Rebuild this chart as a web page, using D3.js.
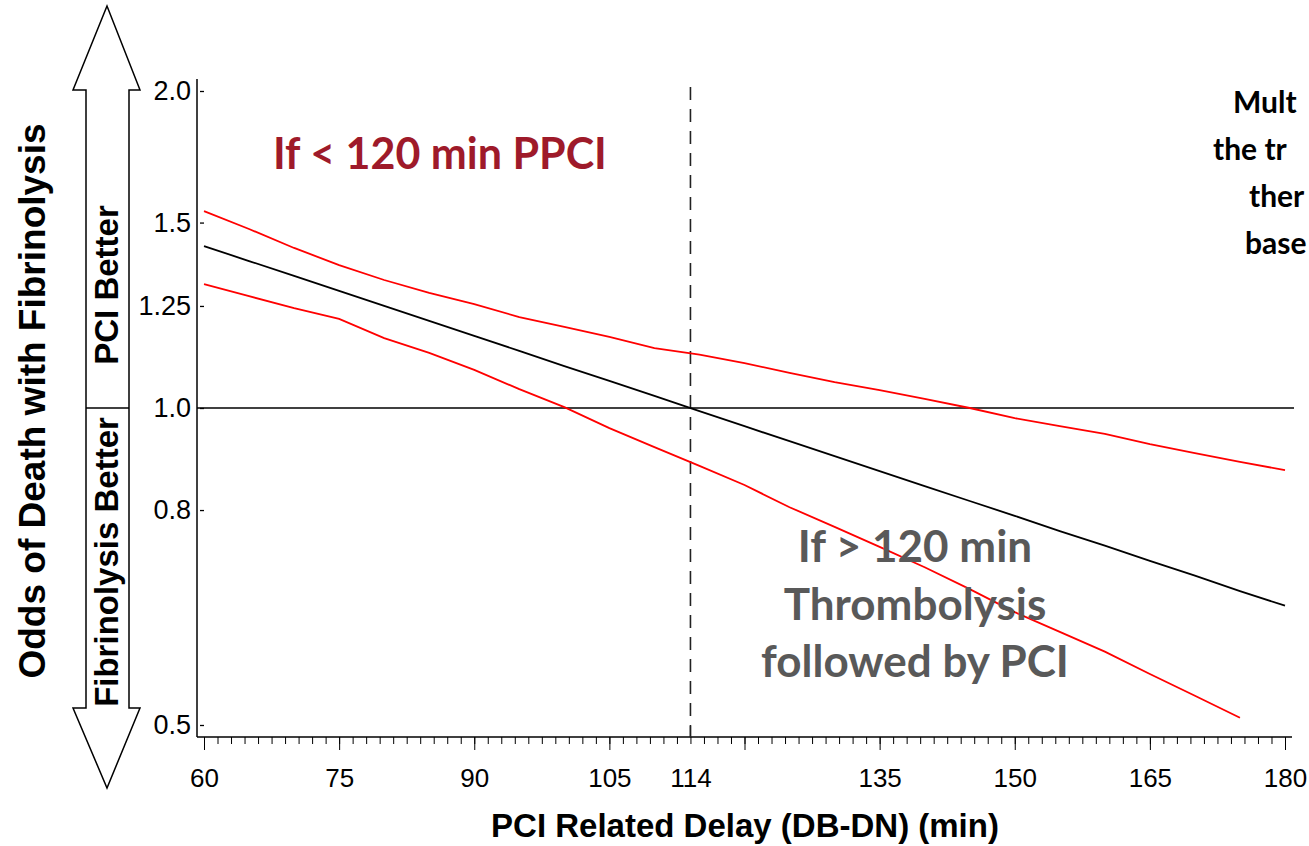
<!DOCTYPE html>
<html>
<head>
<meta charset="utf-8">
<script src="https://cdn.jsdelivr.net/npm/d3@7"></script>
<style>
  body { margin: 0; background: #fff; }
  svg { display: block; }
  .tick text { font-family: "Liberation Sans", Arial, sans-serif; }
</style>
</head>
<body>
<div id="chart"></div>
<script>
// data (delay in min, odds ratio)
let delay = [60, 65, 70, 75, 80, 85, 90, 95, 100, 105, 110, 115, 120, 125, 130, 135, 140, 145, 150, 155, 160, 165, 170, 175, 180];
let oddsMid = [1.425, 1.379, 1.335, 1.292, 1.250, 1.210, 1.171, 1.133, 1.096, 1.061, 1.027, 0.993, 0.961, 0.930, 0.900, 0.871, 0.843, 0.816, 0.790, 0.764, 0.740, 0.716, 0.693, 0.670, 0.649];
let oddsUpper = [1.538, 1.479, 1.419, 1.367, 1.323, 1.286, 1.255, 1.220, 1.194, 1.168, 1.140, 1.124, 1.103, 1.080, 1.058, 1.040, 1.020, 1.000, 0.978, 0.961, 0.945, 0.924, 0.906, 0.889, 0.873];
let oddsLower = [1.311, 1.277, 1.244, 1.215, 1.165, 1.128, 1.087, 1.042, 1.002, 0.957, 0.918, 0.881, 0.845, 0.805, 0.771, 0.738, 0.706, 0.673, 0.640, 0.613, 0.587, 0.559, 0.533, 0.508, null];

let xMajorTicks = [60, 75, 90, 105, 120, 135, 150, 165, 180];
let xLabelTicks = [60, 75, 90, 105, 114, 135, 150, 165, 180];
let yTicks = [0.5, 0.8, 1.0, 1.25, 1.5, 2.0];
let yTickLabels = ["0.5", "0.8", "1.0", "1.25", "1.5", "2.0"];
let cutoff = 114;

let W = 1309, H = 846;

var svg = d3.select("#chart")
    .append("svg")
    .attr("width", W)
    .attr("height", H);

// scales
var x = d3.scaleLinear()
    .domain([60, 180])
    .range([204, 1285]);

var y = d3.scaleLog()
    .domain([0.5, 2.0])
    .range([725, 91]);

var axisX0 = 197, axisY0 = 737;

// x axis: minor ticks every 1.5 min
svg.append("g")
    .attr("transform", "translate(0," + axisY0 + ")")
    .call(d3.axisBottom(x).tickValues(d3.range(60, 180.01, 1.5)).tickSize(7).tickFormat(""))
    .call(g => g.select(".domain").remove());

// x axis: major ticks
svg.append("g")
    .attr("transform", "translate(0," + axisY0 + ")")
    .call(d3.axisBottom(x).tickValues(xMajorTicks).tickSize(13).tickFormat(""))
    .call(g => g.select(".domain").remove());

// x axis labels
svg.append("g")
    .attr("transform", "translate(0," + axisY0 + ")")
    .call(d3.axisBottom(x).tickValues(xLabelTicks).tickSize(0).tickPadding(32).tickFormat(d3.format("d")))
    .call(g => g.select(".domain").remove())
    .selectAll("text")
    .style("font-size", "26px")
    .attr("fill", "#000");

// upward tick at cutoff
svg.append("line")
    .attr("x1", x(cutoff)).attr("x2", x(cutoff))
    .attr("y1", axisY0).attr("y2", axisY0 - 11)
    .attr("stroke", "#000").attr("stroke-width", 1.3);

// axis lines
svg.append("line")
    .attr("x1", axisX0).attr("x2", 1292)
    .attr("y1", axisY0).attr("y2", axisY0)
    .attr("stroke", "#000").attr("stroke-width", 1.5);
svg.append("line")
    .attr("x1", axisX0).attr("x2", axisX0)
    .attr("y1", 79).attr("y2", axisY0)
    .attr("stroke", "#000").attr("stroke-width", 1.5);

// y axis
svg.append("g")
    .attr("transform", "translate(" + axisX0 + ",0)")
    .call(d3.axisLeft(y).tickValues(yTicks).tickSize(0).tickPadding(6)
        .tickFormat(function (d, i) { return yTickLabels[i]; }))
    .call(g => g.select(".domain").remove())
    .call(g => g.selectAll(".tick line").attr("x1", 3).attr("x2", 7).attr("stroke", "#000").attr("stroke-width", 1.3))
    .selectAll("text")
    .style("font-size", "27px")
    .attr("fill", "#000");

// reference line at 1.0
svg.append("line")
    .attr("x1", axisX0).attr("x2", 1294)
    .attr("y1", y(1)).attr("y2", y(1))
    .attr("stroke", "#000").attr("stroke-width", 1.5);

// dashed line at cutoff
svg.append("line")
    .attr("x1", x(cutoff)).attr("x2", x(cutoff))
    .attr("y1", 87).attr("y2", axisY0)
    .attr("stroke", "#222").attr("stroke-width", 1.6)
    .attr("stroke-dasharray", "13,9");

// lines
function makeLine(vals) {
    return d3.line()
        .defined(function (d, i) { return vals[i] != null; })
        .x(function (d) { return x(d); })
        .y(function (d, i) { return y(vals[i]); });
}

svg.append("path")
    .attr("d", makeLine(oddsUpper)(delay))
    .attr("fill", "none").attr("stroke", "#ff0000").attr("stroke-width", 1.8);
svg.append("path")
    .attr("d", makeLine(oddsLower)(delay))
    .attr("fill", "none").attr("stroke", "#ff0000").attr("stroke-width", 1.8);
svg.append("path")
    .attr("d", makeLine(oddsMid)(delay))
    .attr("fill", "none").attr("stroke", "#000").attr("stroke-width", 1.8);

// axis titles
svg.append("text")
    .attr("x", 745).attr("y", 837)
    .attr("text-anchor", "middle")
    .style("font-family", "'Liberation Sans', Arial, sans-serif")
    .style("font-weight", "bold")
    .style("font-size", "33px")
    .text("PCI Related Delay (DB-DN) (min)");

svg.append("text")
    .attr("transform", "translate(45,401) rotate(-90)")
    .attr("text-anchor", "middle")
    .style("font-family", "'Liberation Sans', Arial, sans-serif")
    .style("font-weight", "bold")
    .style("font-size", "37px")
    .text("Odds of Death with Fibrinolysis");

// double arrow
var ax = 107, aTop = 6, aBot = 788, headTop = 90, headBot = 708;
var arrowPts = [
    [ax, aTop], [140, headTop], [129, headTop], [129, headBot], [140, headBot],
    [ax, aBot], [73, headBot], [86, headBot], [86, headTop], [73, headTop]
];
svg.append("path")
    .attr("d", d3.line()(arrowPts) + "Z")
    .attr("fill", "#fff").attr("stroke", "#000").attr("stroke-width", 1.5);
svg.append("line")
    .attr("x1", 86).attr("x2", 129)
    .attr("y1", y(1)).attr("y2", y(1))
    .attr("stroke", "#000").attr("stroke-width", 1.5);

svg.append("text")
    .attr("transform", "translate(118,285) rotate(-90)")
    .attr("text-anchor", "middle")
    .style("font-family", "'Liberation Sans', Arial, sans-serif")
    .style("font-weight", "bold")
    .style("font-size", "33px")
    .text("PCI Better");

svg.append("text")
    .attr("transform", "translate(118,562) rotate(-90)")
    .attr("text-anchor", "middle")
    .style("font-family", "'Liberation Sans', Arial, sans-serif")
    .style("font-weight", "bold")
    .style("font-size", "33px")
    .text("Fibrinolysis Better");

// annotations
svg.append("text")
    .attr("x", 273).attr("y", 169)
    .style("font-family", "Lato, 'Open Sans', sans-serif")
    .style("font-weight", "bold")
    .style("font-size", "43px")
    .attr("fill", "#9e1a2a")
    .text("If < 120 min PPCI");

var greyLines = ["If > 120 min", "Thrombolysis", "followed by PCI"];
svg.selectAll(".grey-note")
    .data(greyLines)
    .enter()
    .append("text")
    .attr("class", "grey-note")
    .attr("x", 915)
    .attr("y", function (d, i) { return 562 + i * 57.5; })
    .attr("text-anchor", "middle")
    .style("font-family", "Lato, 'Open Sans', sans-serif")
    .style("font-weight", "bold")
    .style("font-size", "44px")
    .attr("fill", "#595959")
    .text(function (d) { return d; });

// note running off the right edge (only its visible start)
var sideLines = ["Mult", "the tr", "ther", "base"];
var sideX = [1233, 1213, 1249, 1245];
svg.selectAll(".side-note")
    .data(sideLines)
    .enter()
    .append("text")
    .attr("class", "side-note")
    .attr("x", function (d, i) { return sideX[i]; })
    .attr("y", function (d, i) { return 113 + i * 47; })
    .style("font-family", "Lato, 'Open Sans', sans-serif")
    .style("font-weight", "bold")
    .style("font-size", "30px")
    .attr("fill", "#000")
    .text(function (d) { return d; });
</script>
</body>
</html>
